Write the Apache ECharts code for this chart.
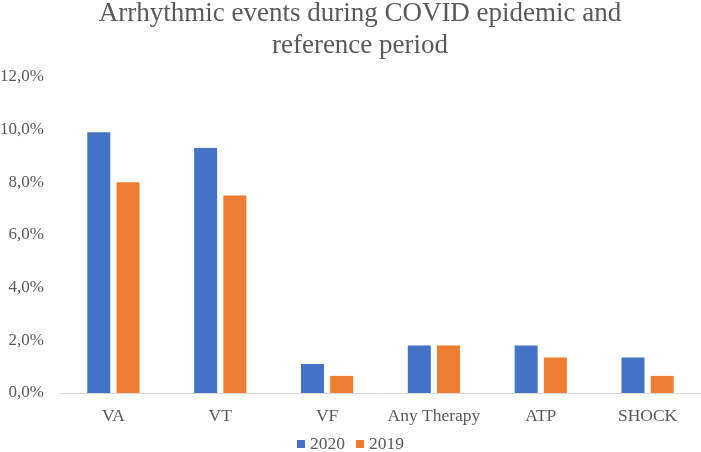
<!DOCTYPE html>
<html><head><meta charset="utf-8">
<script src="https://cdn.jsdelivr.net/npm/echarts@6/dist/echarts.min.js"></script>
<style>html,body{margin:0;padding:0;background:#fff}#c{width:701px;height:452px}</style>
</head><body><div id="c"></div>
<script>
const categories = ['VA', 'VT', 'VF', 'Any Therapy', 'ATP', 'SHOCK'];
const values2020 = [9.9, 9.3, 1.1, 1.8, 1.8, 1.35];
const values2019 = [8.0, 7.5, 0.65, 1.8, 1.35, 0.65];
const seriesNames = ['2020', '2019'];
const titleText = 'Arrhythmic events during COVID epidemic and\nreference period';

const font = '"Liberation Serif", "Times New Roman", serif';
const chart = echarts.init(document.getElementById('c'));
chart.setOption({
  animation: false,
  title: {
    text: titleText, left: 355, textAlign: 'center', top: -7,
    textStyle: { fontFamily: font, fontSize: 27, fontWeight: 'normal', color: '#595959', lineHeight: 32 }
  },
  legend: {
    data: seriesNames, top: 430, left: 'center',
    icon: 'rect', itemWidth: 8, itemHeight: 8, itemGap: 11,
    textStyle: { fontFamily: font, fontSize: 17.5, color: '#595959' }
  },
  grid: { left: 60, right: 0, top: 77, bottom: 59, containLabel: false, outerBoundsMode: 'none' },
  xAxis: {
    type: 'category', data: categories,
    axisLine: { lineStyle: { color: '#D9D9D9', width: 1 } },
    axisTick: { show: false },
    axisLabel: { fontFamily: font, fontSize: 17.5, color: '#595959', margin: 14, interval: 0 }
  },
  yAxis: {
    type: 'value', min: 0, max: 12, interval: 2,
    axisLine: { show: false }, axisTick: { show: false }, splitLine: { show: false },
    axisLabel: {
      fontFamily: font, fontSize: 17, color: '#595959', margin: 16,
      formatter: v => v.toFixed(1).replace('.', ',') + '%'
    }
  },
  series: [
    { name: seriesNames[0], type: 'bar', data: values2020, barWidth: 23, barGap: '27%',
      itemStyle: { color: '#4472C4' } },
    { name: seriesNames[1], type: 'bar', data: values2019, barWidth: 23,
      itemStyle: { color: '#ED7D31' } }
  ]
});
</script></body></html>
